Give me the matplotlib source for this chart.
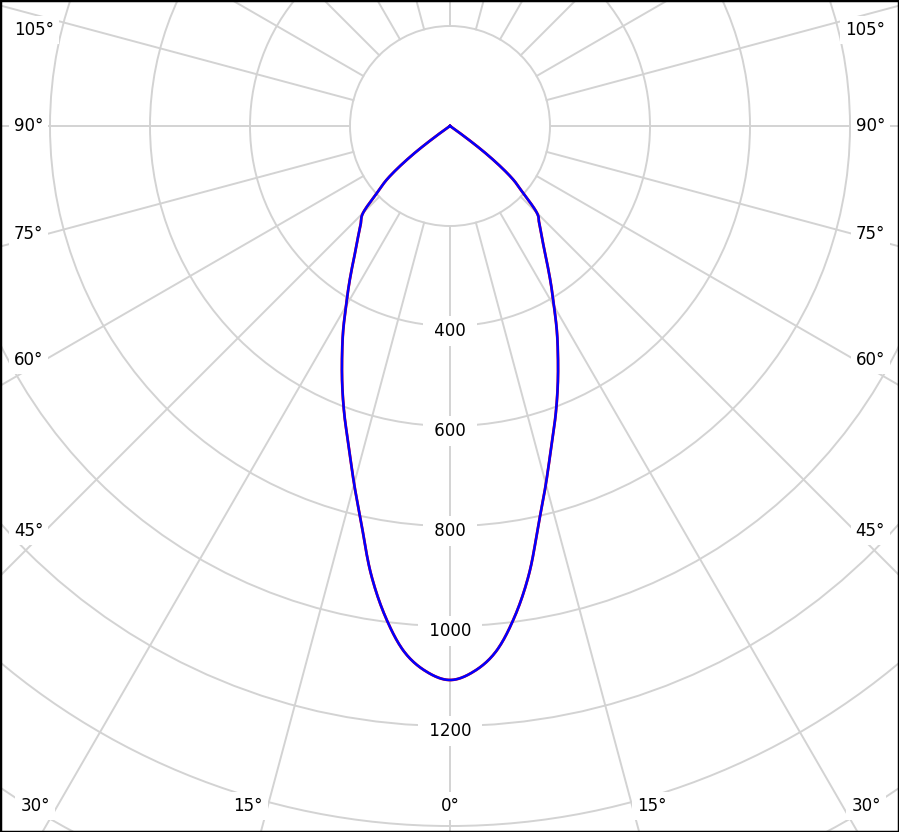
"""Polar luminous intensity diagram (cd), C0-C180 and C90-C270 planes."""

import numpy as np
import matplotlib
matplotlib.use("Agg")
import matplotlib.pyplot as plt
from matplotlib.patches import Circle

# gamma angle from nadir (deg) and intensity (cd)
gamma = [0, 2.5, 5, 7.5, 10, 12.5, 15, 17.5, 20, 22.5, 25, 27.5, 30, 32.5,
         35, 37.5, 40, 42.5, 45, 47.5, 50, 52.5, 55, 57.5, 60, 70, 80, 90]
c0_c180 = [1108, 1092, 1055, 990, 910, 817, 741, 673, 617, 563, 511, 463,
           416, 376, 340, 309, 285, 264, 246, 198, 160, 93, 5, 0, 0, 0, 0, 0]
c90_c270 = [1108, 1092, 1055, 990, 910, 817, 741, 673, 617, 563, 511, 463,
            416, 376, 340, 309, 285, 264, 246, 198, 160, 93, 5, 0, 0, 0, 0, 0]

ring_values = [200, 400, 600, 800, 1000, 1200, 1400, 1600, 1800]
ring_labels = [400, 600, 800, 1000, 1200]
spoke_step = 15

# angle labels on the frame
side_labels = ["105°", "90°", "75°", "60°", "45°"]
side_y = [30, 126, 234, 360, 531]
bottom_labels = ["30°", "15°", "0°", "15°", "30°"]
bottom_x = [35, 248, 450, 652, 866]

W, H = 899, 832
grid_col = "#d3d3d3"

fig = plt.figure(figsize=(W / 100, H / 100), dpi=100)
ax = fig.add_axes([0, 0, 1, 1])
ax.set_xlim(-900, 898)
ax.set_ylim(-1412, 252)
ax.set_aspect("equal")
ax.set_xticks([])
ax.set_yticks([])
for s in ax.spines.values():
    s.set_linewidth(2.5)
    s.set_color("black")

# rings
for r in ring_values:
    ax.add_patch(Circle((0, 0), r, fill=False, ec=grid_col, lw=1.4, zorder=1))

# spokes, starting at the inner ring
for a in range(0, 360, spoke_step):
    t = np.radians(a)
    ax.plot([200 * np.sin(t), 2500 * np.sin(t)],
            [-200 * np.cos(t), -2500 * np.cos(t)],
            color=grid_col, lw=1.4, zorder=1)


def smooth(gx, gy, n=20):
    """cubic hermite through the points, just for a smooth drawn line"""
    gx = np.asarray(gx, float)
    gy = np.asarray(gy, float)
    m = np.gradient(gy, gx)
    xs, ys = [], []
    for i in range(len(gx) - 1):
        h = gx[i + 1] - gx[i]
        t = np.linspace(0, 1, n, endpoint=False)
        h00 = 2 * t**3 - 3 * t**2 + 1
        h10 = t**3 - 2 * t**2 + t
        h01 = -2 * t**3 + 3 * t**2
        h11 = t**3 - t**2
        xs.append(gx[i] + t * h)
        ys.append(h00 * gy[i] + h10 * h * m[i] + h01 * gy[i + 1] + h11 * h * m[i + 1])
    xs.append([gx[-1]])
    ys.append([gy[-1]])
    return np.concatenate(xs), np.clip(np.concatenate(ys), 0, None)


# intensity curves, mirrored on both sides
def curve(values):
    g = np.array(gamma, dtype=float)
    v = np.array(values, dtype=float)
    g_full = np.concatenate([-g[::-1], g[1:]])
    v_full = np.concatenate([v[::-1], v[1:]])
    gs, vs = smooth(g_full, v_full)
    gs = np.radians(gs)
    return vs * np.sin(gs), -vs * np.cos(gs)


x, y = curve(c0_c180)
ax.plot(x, y, color="red", lw=2.0, zorder=3, solid_joinstyle="round")
x, y = curve(c90_c270)
ax.plot(x, y, color="blue", lw=1.8, zorder=4, solid_joinstyle="round")

# ring value labels along the 0 deg spoke
for r in ring_labels:
    ax.text(0, -r - 10, f" {r} ", ha="center", va="center", fontsize=12,
            color="black", zorder=5,
            bbox=dict(boxstyle="square,pad=0.35", fc="white", ec="none"))

box = dict(boxstyle="square,pad=0.3", fc="white", ec="none")
for lab, yp in zip(side_labels, side_y):
    ax.text(14 / W, 1 - yp / H, lab, transform=ax.transAxes, ha="left",
            va="center", fontsize=12, zorder=5, bbox=box)
    ax.text(885 / W, 1 - yp / H, lab, transform=ax.transAxes, ha="right",
            va="center", fontsize=12, zorder=5, bbox=box)
for lab, xp in zip(bottom_labels, bottom_x):
    ax.text(xp / W, 1 - 806 / H, lab, transform=ax.transAxes, ha="center",
            va="center", fontsize=12, zorder=5, bbox=box)

fig.savefig("out.png", dpi=100)
